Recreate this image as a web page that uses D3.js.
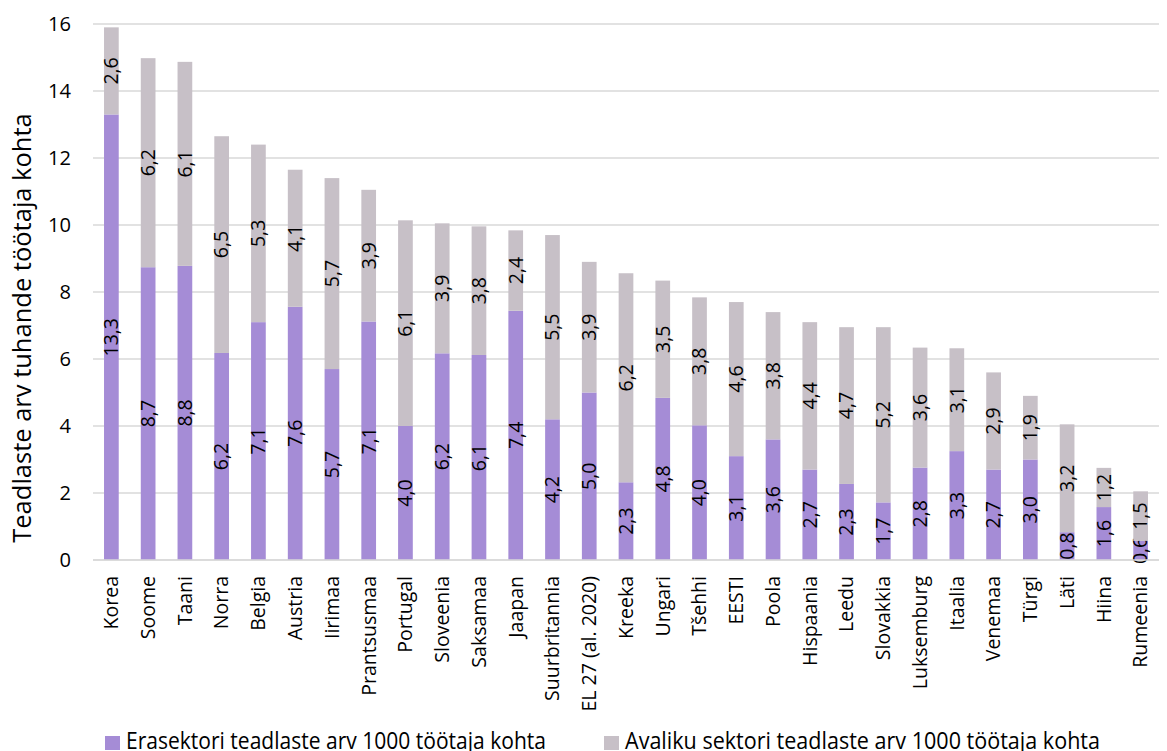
<!DOCTYPE html>
<html>
<head>
<meta charset="utf-8">
<script src="https://cdn.jsdelivr.net/npm/d3@7"></script>
<style>
  body { margin: 0; background: #fff; }
  text { font-family: "Open Sans", "Noto Sans", sans-serif; fill: #000; }
</style>
</head>
<body>
<svg id="chart" width="1167" height="751"></svg>
<script>
// data
var countries = ["Korea", "Soome", "Taani", "Norra", "Belgia", "Austria", "Iirimaa", "Prantsusmaa",
  "Portugal", "Sloveenia", "Saksamaa", "Jaapan", "Suurbritannia", "EL 27 (al. 2020)", "Kreeka", "Ungari",
  "Tšehhi", "EESTI", "Poola", "Hispaania", "Leedu", "Slovakkia", "Luksemburg", "Itaalia", "Venemaa",
  "Türgi", "Läti", "Hiina", "Rumeenia"];
var privateSector = [13.3, 8.74, 8.78, 6.18, 7.1, 7.56, 5.7, 7.12, 4.0, 6.17, 6.12, 7.44, 4.2, 5.0, 2.32,
  4.84, 4.02, 3.1, 3.6, 2.7, 2.27, 1.72, 2.76, 3.25, 2.7, 3.0, 0.83, 1.58, 0.57];
var publicSector = [2.6, 6.24, 6.09, 6.47, 5.3, 4.09, 5.7, 3.93, 6.14, 3.88, 3.84, 2.4, 5.5, 3.9, 6.24,
  3.5, 3.82, 4.6, 3.8, 4.4, 4.68, 5.23, 3.58, 3.07, 2.9, 1.9, 3.22, 1.17, 1.48];
var yTicks = [0, 2, 4, 6, 8, 10, 12, 14, 16];
var seriesNames = ["Erasektori teadlaste arv 1000 töötaja kohta", "Avaliku sektori teadlaste arv 1000 töötaja kohta"];
var colors = ["#a58cd6", "#c7c0c7"];

var svg = d3.select("#chart");
var margin = { top: 24, left: 93, bottom: 191, right: 8 };
var width = 1167, height = 751;

// pick a font size so that a sample string gets the wanted length
function fitSize(str, len) {
  var t = svg.append("text").style("font-size", "100px").text(str);
  var w = t.node().getComputedTextLength();
  t.remove();
  return (100 * len / w).toFixed(1) + "px";
}
var labelSize = fitSize("Suurbritannia", 125);
var tickSize = fitSize("16", 23);
var titleSize = fitSize("Teadlaste arv tuhande töötaja kohta", 430);

var x = d3.scaleBand().domain(countries).range([margin.left, width - margin.right]).paddingInner(0.6).paddingOuter(0.3);
var y = d3.scaleLinear().domain([0, 16]).range([height - margin.bottom, margin.top]);

// gridlines
svg.append("g").selectAll("line")
  .data(yTicks).enter().append("line")
  .attr("x1", margin.left).attr("x2", width - margin.right)
  .attr("y1", function (d) { return y(d); }).attr("y2", function (d) { return y(d); })
  .attr("stroke", "#d9d9d9").attr("stroke-width", 1.5);

// y tick labels
svg.append("g").selectAll("text")
  .data(yTicks).enter().append("text")
  .attr("x", 71).attr("y", function (d) { return y(d); })
  .attr("dy", "0.35em").attr("text-anchor", "end")
  .style("font-size", tickSize)
  .text(function (d) { return d; });

// stacked bars
var rows = countries.map(function (c, i) { return { name: c, a: privateSector[i], b: publicSector[i] }; });
var stack = d3.stack().keys(["a", "b"])(rows);
var fmt = function (v) { return d3.format(".1f")(v).replace(".", ","); };

stack.forEach(function (layer, k) {
  var g = svg.append("g");
  g.selectAll("rect").data(layer).enter().append("rect")
    .attr("x", function (d) { return x(d.data.name); })
    .attr("width", x.bandwidth())
    .attr("y", function (d) { return y(d[1]); })
    .attr("height", function (d) { return y(d[0]) - y(d[1]); })
    .attr("fill", colors[k]);
  g.selectAll("text").data(layer).enter().append("text")
    .attr("transform", function (d) {
      var cx = x(d.data.name) + x.bandwidth() / 2;
      var cy = (y(d[0]) + y(d[1])) / 2;
      return "translate(" + cx + "," + cy + ") rotate(-90)";
    })
    .attr("text-anchor", "middle").attr("dy", "0.35em")
    .style("font-size", labelSize)
    .text(function (d) { return fmt(d[1] - d[0]); });
});

// x axis line
svg.append("line")
  .attr("x1", margin.left).attr("x2", width - margin.right)
  .attr("y1", y(0)).attr("y2", y(0))
  .attr("stroke", "#d9d9d9").attr("stroke-width", 1.5);

// category labels
svg.append("g").selectAll("text")
  .data(countries).enter().append("text")
  .attr("transform", function (d) {
    return "translate(" + (x(d) + x.bandwidth() / 2) + "," + (y(0) + 16) + ") rotate(-90)";
  })
  .attr("text-anchor", "end").attr("dy", "0.35em")
  .style("font-size", labelSize)
  .text(function (d) { return d; });

// y axis title
svg.append("text")
  .attr("transform", "translate(" + 22 + "," + 328 + ") rotate(-90)")
  .attr("text-anchor", "middle").attr("dy", "0.35em")
  .style("font-size", titleSize)
  .text("Teadlaste arv tuhande töötaja kohta");

// legend
var legendX = [105, 604];
var legendW = [420, 475];
seriesNames.forEach(function (name, i) {
  svg.append("rect")
    .attr("x", legendX[i]).attr("y", 736).attr("width", 15).attr("height", 14)
    .attr("fill", colors[i]);
  svg.append("text")
    .attr("x", legendX[i] + 21).attr("y", 749)
    .attr("textLength", legendW[i]).attr("lengthAdjust", "spacingAndGlyphs")
    .style("font-size", "23px")
    .text(name);
});
</script>
</body>
</html>
